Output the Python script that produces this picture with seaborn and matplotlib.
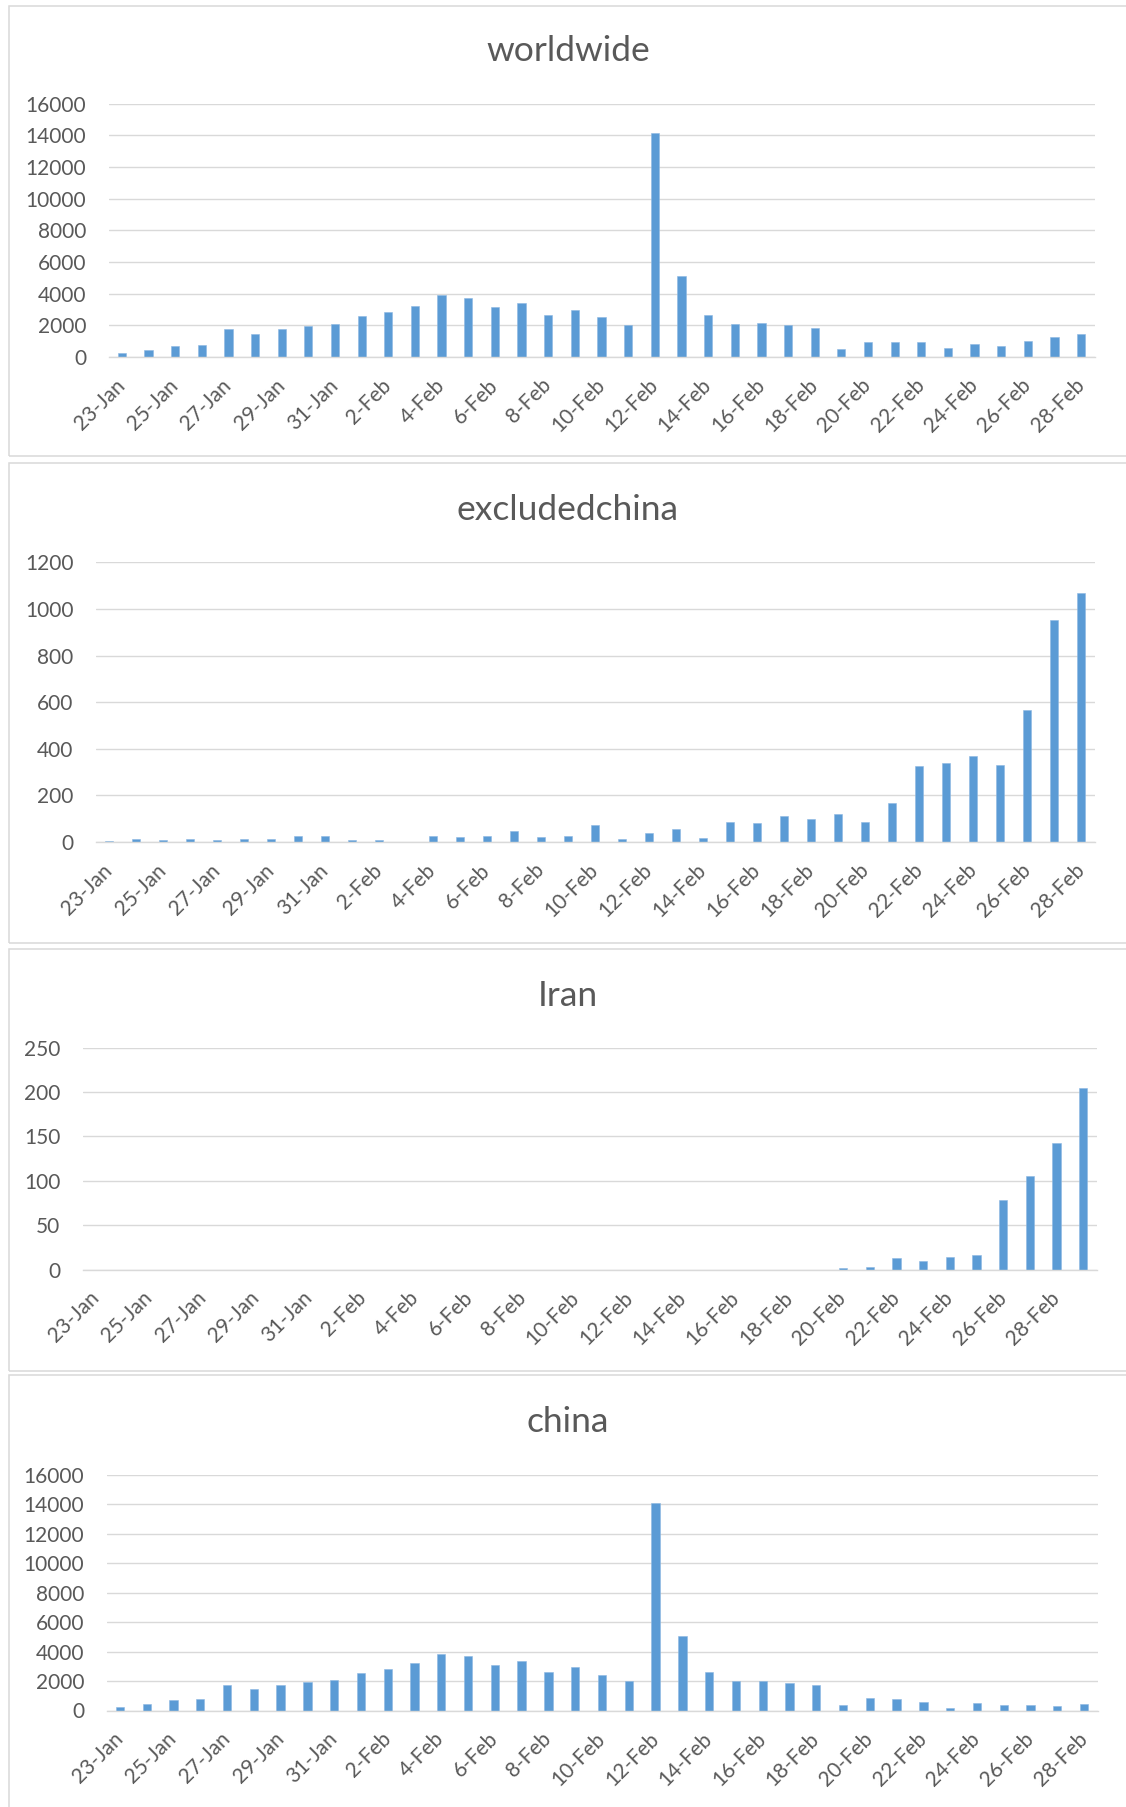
import matplotlib
matplotlib.use("Agg")
import matplotlib.pyplot as plt
from matplotlib.patches import Rectangle
import seaborn as sns

# Daily new cases, 23 Jan - 29 Feb
dates = ["23-Jan", "24-Jan", "25-Jan", "26-Jan", "27-Jan", "28-Jan", "29-Jan", "30-Jan",
         "31-Jan", "1-Feb", "2-Feb", "3-Feb", "4-Feb", "5-Feb", "6-Feb", "7-Feb",
         "8-Feb", "9-Feb", "10-Feb", "11-Feb", "12-Feb", "13-Feb", "14-Feb", "15-Feb",
         "16-Feb", "17-Feb", "18-Feb", "19-Feb", "20-Feb", "21-Feb", "22-Feb", "23-Feb",
         "24-Feb", "25-Feb", "26-Feb", "27-Feb", "28-Feb", "29-Feb"]

worldwide = [250, 470, 680, 770, 1760, 1460, 1740, 1980, 2100, 2590, 2830, 3240,
             3890, 3700, 3160, 3400, 2660, 2970, 2530, 2020, 14140, 5120, 2650, 2080,
             2120, 1990, 1840, 500, 960, 960, 960, 540, 850, 720, 980, 1250, 1480]

excludedchina = [3, 12, 7, 12, 7, 14, 14, 24, 24, 10, 9, 0, 27, 23, 27, 49, 20, 24,
                 75, 14, 40, 56, 16, 85, 80, 112, 99, 122, 85, 169, 327, 337, 371,
                 332, 567, 954, 1070]

iran = [0] * 28 + [2, 3, 13, 10, 14, 17, 78, 105, 142, 204]

china = [230, 475, 680, 750, 1760, 1470, 1740, 1970, 2080, 2580, 2830, 3235,
         3865, 3690, 3120, 3370, 2645, 2960, 2440, 1990, 14100, 5060, 2620, 2000,
         2035, 1875, 1740, 385, 860, 790, 610, 180, 500, 385, 405, 315, 430]

titles = ["worldwide", "excludedchina", "Iran", "china"]
series = [worldwide, excludedchina, iran, china]
y_max = [16000, 1200, 250, 16000]
y_step = [2000, 200, 50, 2000]

sns.set_style("white")
plt.rcParams["font.family"] = ["Lato", "DejaVu Sans"]

W, H = 1126, 1807
fig = plt.figure(figsize=(W / 100, H / 100), dpi=100)
fig.patch.set_facecolor("white")

TEXT = "#595959"
GRID = "#d9d9d9"
BAR = "#5B9BD5"

# chart frames (pixel rectangles: x0, y_top, y_bottom)
frames = [(8.6, 5.6, 456), (8.6, 463, 943), (8.6, 949, 1371), (8.6, 1375, 1830)]
for x0, yt, yb in frames:
    fig.patches.append(Rectangle((x0 / W, 1 - yb / H), (1200 - x0) / W, (yb - yt) / H,
                                 transform=fig.transFigure, fill=False,
                                 edgecolor=GRID, linewidth=1.1, clip_on=False))

# plot areas (pixel coords: left, right, top, bottom) and title centres
areas = [(108.5, 1094.5, 103.7, 357.0),
         (95.7, 1094.7, 562.4, 842.0),
         (82.6, 1096.5, 1047.5, 1269.7),
         (106.5, 1097.5, 1475.0, 1710.5)]
title_y = [51.0, 509.5, 996.0, 1422.5]

for title, vals, ymax, step, (l, r, t, b), ty in zip(titles, series, y_max, y_step, areas, title_y):
    ax = fig.add_axes([l / W, 1 - b / H, (r - l) / W, (b - t) / H])
    n = len(vals)
    cats = dates[:n]
    sns.barplot(x=cats, y=vals, ax=ax, color=BAR, saturation=1, width=0.31,
                edgecolor="#8db8e2", linewidth=0.4)
    ax.set_xlim(-0.5, n - 0.5)
    ax.set_ylim(0, ymax)
    ax.set_yticks(range(0, ymax + 1, step))
    ax.tick_params(axis="y", length=0, pad=16, labelsize=15, labelcolor=TEXT)
    ax.yaxis.grid(True, color=GRID, linewidth=1.0)
    ax.set_axisbelow(True)
    for side in ("left", "right", "top"):
        ax.spines[side].set_visible(False)
    ax.spines["bottom"].set_color(GRID)
    ax.spines["bottom"].set_linewidth(1.0)

    # tick marks between categories, every two days
    ax.set_xticks([i - 0.5 for i in range(0, n, 2)])
    ax.set_xticklabels([])
    ax.tick_params(axis="x", which="major", length=5, width=1.0, color=GRID, direction="out")
    # date labels on every other category
    label_pos = list(range(0, 37, 2))
    ax.set_xticks(label_pos, minor=True)
    ax.set_xticklabels([dates[i] for i in label_pos], minor=True)
    ax.tick_params(axis="x", which="minor", length=0, pad=18, labelsize=15, labelcolor=TEXT)
    for lab in ax.get_xticklabels(minor=True):
        lab.set_rotation(45)
        lab.set_ha("right")
        lab.set_va("center")
        lab.set_rotation_mode("anchor")
    ax.set_xlabel("")
    ax.set_ylabel("")

    fig.text(568 / W, 1 - ty / H, title, ha="center", va="center", fontsize=25.5, color=TEXT)

fig.savefig("out.png", dpi=100, facecolor="white")
